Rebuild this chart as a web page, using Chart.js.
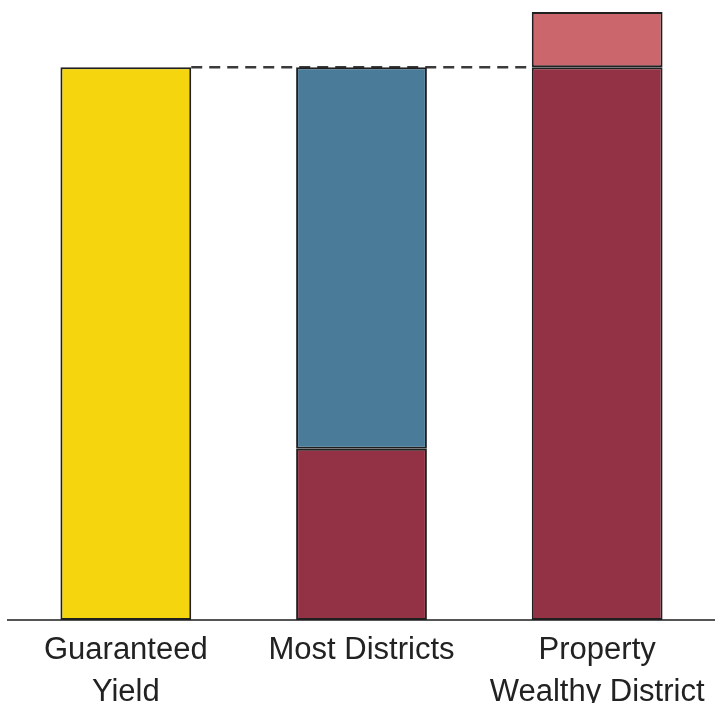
<!DOCTYPE html>
<html>
<head>
<meta charset="utf-8">
<script src="https://cdn.jsdelivr.net/npm/chart.js@4/dist/chart.umd.min.js"></script>
<style>
  html, body { margin: 0; padding: 0; background: #fff; }
  #wrap { width: 715px; height: 703px; position: relative; }
</style>
</head>
<body>
<div id="wrap"><canvas id="yieldChart"></canvas></div>
<script>
// categories along the bottom
const categories = [['Guaranteed', 'Yield'], ['Most Districts'], ['Property', 'Wealthy District']];

// stacked pieces per category (null = nothing drawn)
const guaranteedYield = [100, null, null];
const localShare      = [null, 31, 100];
const stateShare      = [null, 69, null];
const excessShare     = [null, null, 10];

const fullLevel = 100;   // height of the guaranteed yield, dashed line level
const yMax = 112;

// dashed line at the guaranteed level, drawn behind the bars
const levelLine = {
    id: 'levelLine',
    beforeDatasetsDraw(chart) {
        const y = chart.scales.y.getPixelForValue(fullLevel);
        const first = chart.getDatasetMeta(0).data[0];
        const last = chart.getDatasetMeta(1).data[2];
        const ctx = chart.ctx;
        ctx.save();
        ctx.strokeStyle = '#3a3a3a';
        ctx.lineWidth = 2.5;
        ctx.setLineDash([11, 7]);
        ctx.beginPath();
        ctx.moveTo(first.x + first.width / 2, y);
        ctx.lineTo(last.x - last.width / 2, y);
        ctx.stroke();
        ctx.restore();
    }
};

const barStyle = { borderColor: '#1f1f1f', borderWidth: 2, borderSkipped: false, categoryPercentage: 1, barPercentage: 0.555 };

new Chart(document.getElementById('yieldChart'), {
    type: 'bar',
    data: {
        labels: categories,
        datasets: [
            { label: 'Guaranteed', data: guaranteedYield, backgroundColor: '#f5d60e', ...barStyle },
            { label: 'Local', data: localShare, backgroundColor: '#933244', ...barStyle },
            { label: 'State', data: stateShare, backgroundColor: '#4a7b98', ...barStyle },
            { label: 'Excess', data: excessShare, backgroundColor: '#cb666c', ...barStyle }
        ]
    },
    options: {
        responsive: true,
        maintainAspectRatio: false,
        animation: false,
        layout: { padding: { top: 1, left: 8, right: 0, bottom: 0 } },
        plugins: { legend: { display: false }, tooltip: { enabled: false } },
        scales: {
            x: {
                stacked: true,
                grid: { display: false, drawTicks: false },
                border: { display: true, color: '#555', width: 2 },
                ticks: {
                    color: '#222',
                    padding: 10,
                    font: { family: '"Liberation Sans", Arial, sans-serif', size: 31, lineHeight: 1.35 }
                },
                afterFit(scale) { scale.height = 83; }
            },
            y: {
                stacked: true,
                display: false,
                min: 0,
                max: yMax
            }
        }
    },
    plugins: [levelLine]
});
</script>
</body>
</html>
